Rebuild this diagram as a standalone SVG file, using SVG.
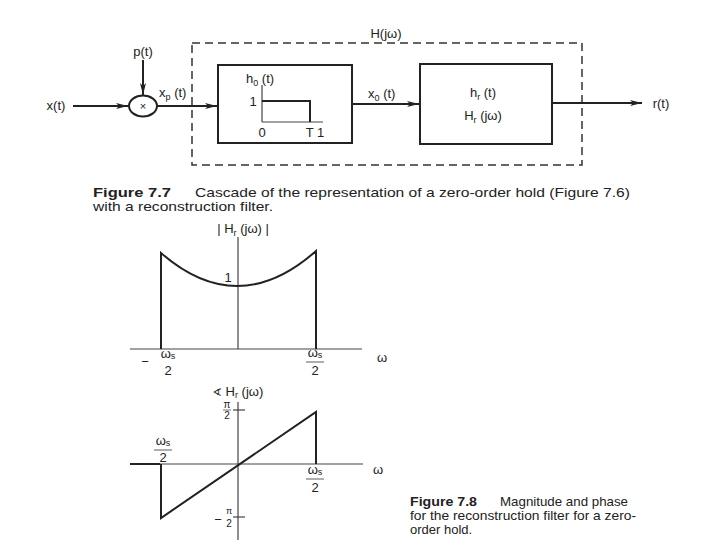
<svg xmlns="http://www.w3.org/2000/svg" width="720" height="540" viewBox="0 0 720 540">
<style>
text{font-family:"Liberation Sans",Arial,sans-serif;fill:#222;}
.lbl{font-size:13px;}
.sub{font-size:9px;}
.cap{font-size:13px;}
.b{font-weight:bold;}
.box{fill:none;stroke:#222;stroke-width:2;}
.ln{fill:none;stroke:#222;stroke-width:2;}
.thin{fill:none;stroke:#444;stroke-width:1.2;}
.dash{fill:none;stroke:#333;stroke-width:1.5;stroke-dasharray:8 5;}
</style>
<defs>
<marker id="ah" viewBox="0 0 12 6" refX="12" refY="3" markerWidth="12" markerHeight="6" markerUnits="userSpaceOnUse" orient="auto">
<path d="M0,0 L12,3 L0,6 L3,3 Z" fill="#222"/>
</marker>
</defs>
<rect width="720" height="540" fill="#fff"/>

<g id="hjw-boundary">
<rect x="192" y="43" width="390" height="122" class="dash"/>
<text x="386" y="38" class="lbl" text-anchor="middle">H(jω)</text>
</g>

<g id="input">
<text x="56" y="110" class="lbl" text-anchor="middle">x(t)</text>
</g>
<g id="pulse">
<text x="143" y="56" class="lbl" text-anchor="middle">p(t)</text>
</g>
<g id="multiplier">
<ellipse cx="143" cy="106" rx="14" ry="10.5" class="box" stroke-width="1.6"/>
<text x="143" y="110" font-size="11" text-anchor="middle">×</text>
</g>

<g id="zoh">
<rect x="218" y="65" width="134" height="78" class="box"/>
<text x="246" y="83" class="lbl">h<tspan class="sub" dy="3">0</tspan><tspan dy="-3"> (t)</tspan></text>
<line x1="262" y1="85" x2="262" y2="122" class="thin"/>
<line x1="262" y1="122" x2="323" y2="122" class="thin" stroke-width="0.8"/>
<polyline points="262,101 310,101 310,122" class="ln"/>
<text x="253" y="106" class="lbl" text-anchor="middle">1</text>
<text x="262" y="137" class="lbl" text-anchor="middle">0</text>
<text x="315" y="137" class="lbl" text-anchor="middle">T 1</text>
</g>

<g id="recon">
<rect x="420" y="64" width="132" height="80" class="box"/>
<text x="483" y="97" class="lbl" text-anchor="middle">h<tspan class="sub" dy="3">r</tspan><tspan dy="-3"> (t)</tspan></text>
<text x="483" y="120" class="lbl" text-anchor="middle">H<tspan class="sub" dy="3">r</tspan><tspan dy="-3"> (jω)</tspan></text>
</g>

<g id="output">
<text x="661" y="108" class="lbl" text-anchor="middle">r(t)</text>
</g>

<g id="connectors">
<line x1="73" y1="106" x2="128" y2="106" class="ln" marker-end="url(#ah)"/>
<line x1="143" y1="60" x2="143" y2="95" class="ln" marker-end="url(#ah)"/>
<line x1="157" y1="106" x2="217" y2="106" class="ln" marker-end="url(#ah)"/>
<text x="159" y="97" class="lbl">x<tspan class="sub" dy="3">p</tspan><tspan dy="-3"> (t)</tspan></text>
<line x1="352" y1="104" x2="419" y2="104" class="ln" marker-end="url(#ah)"/>
<text x="368" y="98" class="lbl">x<tspan class="sub" dy="3">0</tspan><tspan dy="-3"> (t)</tspan></text>
<line x1="552" y1="103" x2="642" y2="103" class="ln" marker-end="url(#ah)"/>
</g>

<g id="caption77">
<text x="93" y="197" class="cap b" textLength="78" lengthAdjust="spacingAndGlyphs">Figure 7.7</text>
<text x="195" y="197" class="cap" textLength="435" lengthAdjust="spacingAndGlyphs">Cascade of the representation of a zero-order hold (Figure 7.6)</text>
<text x="93" y="211" class="cap" textLength="180" lengthAdjust="spacingAndGlyphs">with a reconstruction filter.</text>
</g>

<g id="magnitude-plot">
<line x1="130" y1="349" x2="362" y2="349" class="thin"/>
<line x1="238" y1="237" x2="238" y2="349" class="thin" stroke-width="1.5"/>
<path d="M161,349 L161,253 Q238,320 316,251 L316,349" class="ln"/>
<text x="243" y="233" class="lbl" text-anchor="middle">| H<tspan class="sub" dy="3">r</tspan><tspan dy="-3"> (jω) |</tspan></text>
<text x="228" y="282" class="lbl" text-anchor="middle">1</text>
<text x="382" y="362" class="lbl" text-anchor="middle">ω</text>
<text x="145" y="366" class="lbl" text-anchor="middle">−</text>
<text x="168" y="358" class="lbl" text-anchor="middle">ω<tspan class="sub" dy="1">s</tspan></text>
<text x="168" y="375" class="lbl" text-anchor="middle">2</text>
<text x="315" y="357" class="lbl" text-anchor="middle">ω<tspan class="sub" dy="1">s</tspan></text>
<line x1="306" y1="362" x2="324" y2="362" stroke="#333" stroke-width="0.8"/>
<text x="315" y="375" class="lbl" text-anchor="middle">2</text>
</g>

<g id="phase-plot">
<line x1="130" y1="464" x2="160" y2="464" class="ln"/>
<line x1="160" y1="464" x2="363" y2="464" class="thin"/>
<line x1="238" y1="402" x2="238" y2="540" class="thin" stroke-width="1"/>
<line x1="233" y1="410" x2="245" y2="410" class="thin" stroke-width="1"/>
<line x1="233" y1="517" x2="245" y2="517" class="thin" stroke-width="0.8"/>
<polyline points="161,464 161,518 316,412 316,464" class="ln"/>
<text x="238" y="396" class="lbl" text-anchor="middle"><tspan font-family="DejaVu Sans" font-size="11">∢</tspan> H<tspan class="sub" dy="2">r</tspan><tspan dy="-2"> (jω)</tspan></text>
<text x="227" y="408" font-size="10" text-anchor="middle">π</text>
<line x1="223" y1="410" x2="231" y2="410" stroke="#333" stroke-width="0.7"/>
<text x="227" y="419" font-size="10" text-anchor="middle">2</text>
<text x="378" y="474" class="lbl" text-anchor="middle">ω</text>
<text x="163" y="445" class="lbl" text-anchor="middle">ω<tspan class="sub" dy="1">s</tspan></text>
<line x1="154" y1="450" x2="172" y2="450" stroke="#333" stroke-width="0.8"/>
<text x="163" y="462" class="lbl" text-anchor="middle">2</text>
<text x="315" y="474" class="lbl" text-anchor="middle">ω<tspan class="sub" dy="1">s</tspan></text>
<line x1="306" y1="479" x2="324" y2="479" stroke="#333" stroke-width="0.8"/>
<text x="315" y="492" class="lbl" text-anchor="middle">2</text>
<text x="218" y="524" class="lbl" text-anchor="middle">−</text>
<text x="229" y="514" font-size="9" text-anchor="middle">π</text>
<text x="229" y="527" font-size="10" text-anchor="middle">2</text>
</g>

<g id="caption78">
<text x="410" y="506" class="cap b" textLength="67" lengthAdjust="spacingAndGlyphs">Figure 7.8</text>
<text x="500" y="506" class="cap" textLength="128" lengthAdjust="spacingAndGlyphs">Magnitude and phase</text>
<text x="410" y="520" class="cap" textLength="226" lengthAdjust="spacingAndGlyphs">for the reconstruction filter for a zero-</text>
<text x="410" y="534" class="cap">order hold.</text>
</g>
</svg>
